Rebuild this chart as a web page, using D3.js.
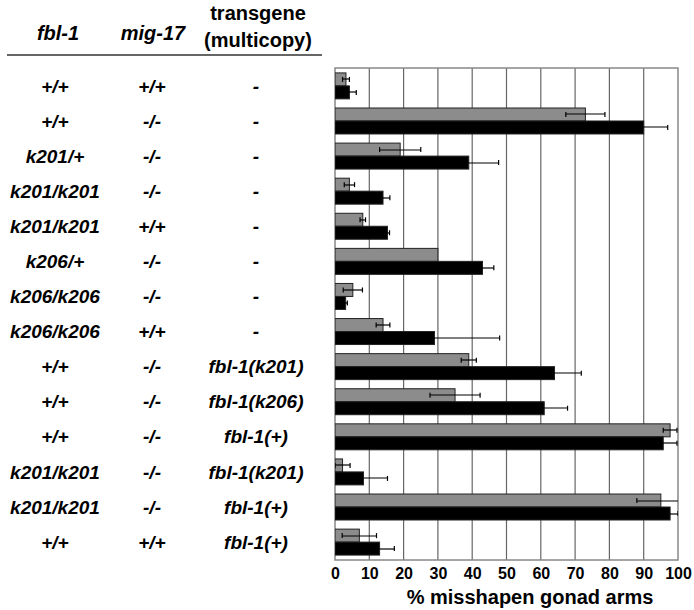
<!DOCTYPE html>
<html>
<head>
<meta charset="utf-8">
<script src="https://cdn.jsdelivr.net/npm/d3@7"></script>
<style>
  html, body { margin: 0; padding: 0; background: #fff; }
  svg { display: block; font-family: "Liberation Sans", Arial, sans-serif; }
</style>
</head>
<body>
<svg id="chart" width="694" height="610"></svg>
<script>
// ---- data ----
const fbl1 = ["+/+","+/+","k201/+","k201/k201","k201/k201","k206/+","k206/k206","k206/k206","+/+","+/+","+/+","k201/k201","k201/k201","+/+"];
const mig17 = ["+/+","-/-","-/-","-/-","+/+","-/-","-/-","+/+","-/-","-/-","-/-","-/-","-/-","+/+"];
const transgene = ["-","-","-","-","-","-","-","-","fbl-1(k201)","fbl-1(k206)","fbl-1(+)","fbl-1(k201)","fbl-1(+)","fbl-1(+)"];
const grayValues = [3.2, 73, 19, 4.2, 8.1, 30, 5.2, 14, 39, 35, 97.7, 2.2, 95, 7.1];
const grayErrors = [1, 5.7, 6, 1.5, 0.8, 0, 2.8, 2, 2.2, 7.3, 2, 2.2, 7, 5];
const blackValues = [4.2, 90, 39, 14, 15.3, 43, 3.1, 29, 64, 61, 95.7, 8.3, 97.7, 13];
const blackErrors = [2, 7, 8.7, 2, 0.6, 3.3, 0.5, 19, 7.8, 6.8, 4, 7, 2.3, 4.3];
const xTicks = [0,10,20,30,40,50,60,70,80,90,100];
const seriesNames = ["gray","black"];

(function () {
const svg = d3.select("#chart");
const pL = 335, pR = 678, pT = 68, pB = 560;

const x = d3.scaleLinear().domain([0,100]).range([pL, pR]);
const y = d3.scaleBand().domain(d3.range(fbl1.length)).range([pT, pB]).paddingInner(0.26).paddingOuter(0.14);
const ySub = d3.scaleBand().domain(seriesNames).range([0, y.bandwidth()]);

// clip
svg.append("defs").append("clipPath").attr("id","plotclip")
  .append("rect").attr("x", pL).attr("y", pT).attr("width", pR-pL).attr("height", pB-pT);

// gridlines
svg.append("g").selectAll("line").data(xTicks.slice(1, -1)).join("line")
  .attr("x1", d => x(d)).attr("x2", d => x(d))
  .attr("y1", pT).attr("y2", pB)
  .attr("stroke", "#666").attr("stroke-width", 1.2);

// border
svg.append("rect").attr("x", pL).attr("y", pT).attr("width", pR-pL).attr("height", pB-pT)
  .attr("fill", "none").attr("stroke", "#888").attr("stroke-width", 1.5);

// bars
const rows = fbl1.map((d,i) => [
  {i, s:"gray", v: grayValues[i], e: grayErrors[i]},
  {i, s:"black", v: blackValues[i], e: blackErrors[i]}
]).flat();

const plot = svg.append("g").attr("clip-path", "url(#plotclip)");
plot.selectAll("rect.bar").data(rows).join("rect").attr("class","bar")
  .attr("x", x(0))
  .attr("y", d => y(d.i) + ySub(d.s))
  .attr("width", d => x(d.v) - x(0))
  .attr("height", ySub.bandwidth())
  .attr("fill", d => d.s === "gray" ? "#8c8c8c" : "#000")
  .attr("stroke", "#222").attr("stroke-width", 1);

// error bars
const eb = plot.selectAll("g.err").data(rows.filter(d => d.e > 0)).join("g").attr("class","err");
eb.append("line")
  .attr("x1", d => x(d.v - d.e)).attr("x2", d => x(d.v + d.e))
  .attr("y1", d => Math.round(y(d.i) + ySub(d.s) + ySub.bandwidth()/2))
  .attr("y2", d => Math.round(y(d.i) + ySub(d.s) + ySub.bandwidth()/2))
  .attr("stroke", "#000").attr("stroke-width", 1.2);
eb.selectAll("line.cap").data(d => [d.v - d.e, d.v + d.e].map(v => ({v, d}))).join("line").attr("class","cap")
  .attr("x1", c => x(c.v)).attr("x2", c => x(c.v))
  .attr("y1", c => y(c.d.i) + ySub(c.d.s) + ySub.bandwidth()/2 - 2.5)
  .attr("y2", c => y(c.d.i) + ySub(c.d.s) + ySub.bandwidth()/2 + 2.5)
  .attr("stroke", "#000").attr("stroke-width", 1.2);

// x axis
const axis = svg.append("g").attr("transform", `translate(0,${pB})`)
  .call(d3.axisBottom(x).tickValues(xTicks).tickSize(0).tickPadding(8).tickFormat(d3.format("d")));
axis.select(".domain").remove();
axis.selectAll("text").attr("font-size", 16).attr("font-weight", "bold")
  .attr("font-family", "'Liberation Sans', Arial, sans-serif").attr("fill", "#000");

svg.append("text").attr("x", 530).attr("y", 604)
  .attr("text-anchor", "middle").attr("font-size", 20).attr("font-weight", "bold")
  .text("% misshapen gonad arms");

// table headers
svg.append("text").attr("x", 58).attr("y", 40).attr("text-anchor","middle")
  .attr("font-size", 20).attr("font-weight","bold").attr("font-style","italic").text("fbl-1");
svg.append("text").attr("x", 153).attr("y", 40).attr("text-anchor","middle")
  .attr("font-size", 20).attr("font-weight","bold").attr("font-style","italic").text("mig-17");
svg.append("text").attr("x", 258).attr("y", 20).attr("text-anchor","middle")
  .attr("font-size", 20).attr("font-weight","bold").text("transgene");
svg.append("text").attr("x", 258).attr("y", 47).attr("text-anchor","middle")
  .attr("font-size", 20).attr("font-weight","bold").text("(multicopy)");
svg.append("line").attr("x1", 7).attr("x2", 322).attr("y1", 55).attr("y2", 55)
  .attr("stroke", "#333").attr("stroke-width", 1.5);

// table rows
const cols = [{data: fbl1, cx: 55}, {data: mig17, cx: 152}, {data: transgene, cx: 256}];
cols.forEach(col => {
  svg.append("g").selectAll("text").data(col.data).join("text")
    .attr("x", col.cx)
    .attr("y", (d,i) => y(i) + y.bandwidth()/2)
    .attr("dy", "0.35em")
    .attr("text-anchor", "middle")
    .attr("font-size", 19).attr("font-weight", "bold").attr("font-style", "italic")
    .text(d => d);
});
})();
</script>
</body>
</html>
